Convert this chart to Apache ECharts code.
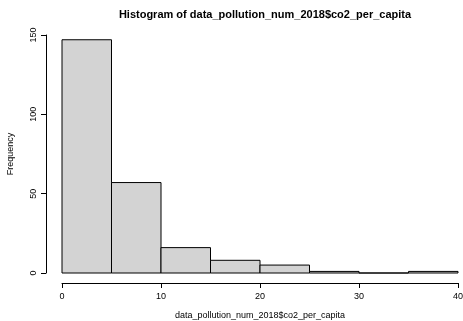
<!DOCTYPE html>
<html>
<head>
<meta charset="utf-8">
<script src="https://cdn.jsdelivr.net/npm/echarts@6/dist/echarts.min.js"></script>
<style>html,body{margin:0;padding:0;background:#fff}#c{width:463px;height:321px}</style>
</head>
<body>
<div id="c"></div>
<script>
var binStarts = [0, 5, 10, 15, 20, 25, 30, 35];
var binEnds = [5, 10, 15, 20, 25, 30, 35, 40];
var counts = [147, 57, 16, 8, 5, 1, 0, 1];
var xTicks = [0, 10, 20, 30, 40];
var yTicks = [0, 50, 100, 150];

var data = binStarts.map(function (s, i) { return [s, binEnds[i], counts[i]]; });
var chart = echarts.init(document.getElementById('c'), null, {renderer: 'canvas'});
var font = 'Liberation Sans, Arial, Helvetica, sans-serif';
chart.setOption({
  animation: false,
  title: {
    text: 'Histogram of data_pollution_num_2018$co2_per_capita',
    left: 260, top: 4, textAlign: 'center',
    textStyle: {fontFamily: font, fontSize: 11, fontWeight: 'bold', color: '#000'}
  },
  grid: {left: 62, right: 5, top: 35, bottom: 48, containLabel: false, outerBoundsMode: 'none'},
  xAxis: {
    type: 'value', min: 0, max: 40, interval: 10, offset: 10,
    name: 'data_pollution_num_2018$co2_per_capita', nameLocation: 'middle', nameGap: 28,
    nameTextStyle: {fontFamily: font, fontSize: 9, color: '#000'},
    axisLine: {show: true, onZero: false, lineStyle: {color: '#000', width: 1}},
    axisTick: {show: true, length: 5, lineStyle: {color: '#000'}},
    axisLabel: {fontFamily: font, fontSize: 9, color: '#000', margin: 9,
      formatter: function (v) { return xTicks.indexOf(v) >= 0 ? String(v) : ''; }},
    splitLine: {show: false}
  },
  yAxis: {
    type: 'value', min: 0, max: 150, interval: 50, offset: 16,
    name: 'Frequency', nameLocation: 'middle', nameGap: 31, nameRotate: 90,
    nameTextStyle: {fontFamily: font, fontSize: 9, color: '#000'},
    axisLine: {show: true, onZero: false, lineStyle: {color: '#000', width: 1}},
    axisTick: {show: true, length: 5, lineStyle: {color: '#000'}},
    axisLabel: {fontFamily: font, fontSize: 9, color: '#000', rotate: 90, margin: 8,
      formatter: function (v) { return yTicks.indexOf(v) >= 0 ? String(v) : ''; }},
    splitLine: {show: false}
  },
  series: [{
    type: 'custom',
    data: data,
    encode: {x: [0, 1], y: 2},
    renderItem: function (params, api) {
      var p0 = api.coord([api.value(0), 0]);
      var p1 = api.coord([api.value(1), api.value(2)]);
      return {
        type: 'rect',
        shape: {x: p0[0], y: p1[1], width: p1[0] - p0[0], height: p0[1] - p1[1]},
        style: {fill: '#d3d3d3', stroke: '#000', lineWidth: 1}
      };
    }
  }]
});
</script>
</body>
</html>
